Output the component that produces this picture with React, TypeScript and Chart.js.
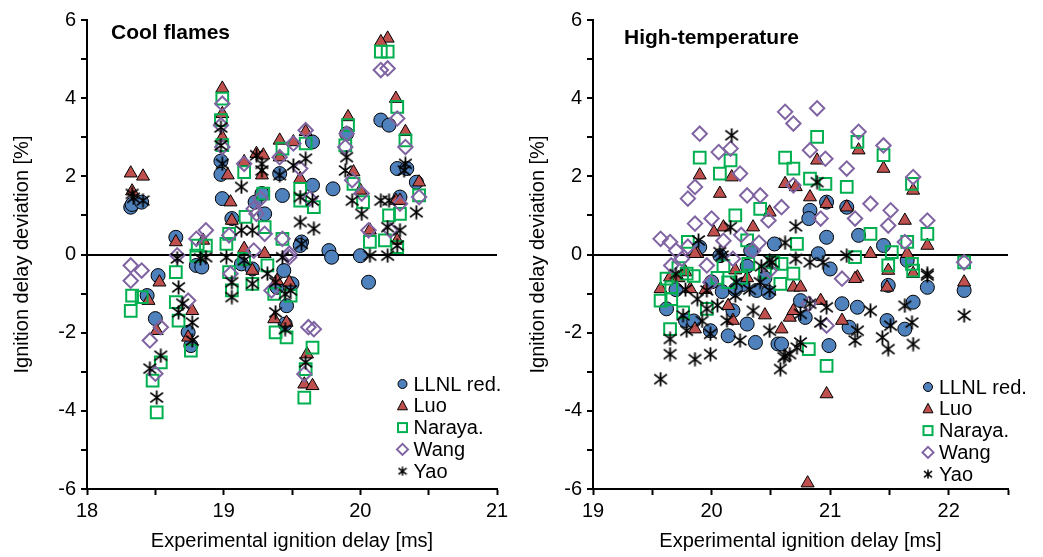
import React, { useEffect, useRef } from 'react';
import { Chart, registerables } from 'chart.js';

Chart.register(...registerables);

type Pt = [number, number];

const seriesNames = ['LLNL red.', 'Luo', 'Naraya.', 'Wang', 'Yao'];
const xAxisTitle = 'Experimental ignition delay [ms]';
const yAxisTitle = 'Ignition delay deviation [%]';

// ---- Cool flames panel: [experimental delay (ms), deviation (%)] ----
const coolLLNL: Pt[] = [
  [18.32, 1.21], [18.33, 1.28], [18.40, 1.34],
  [18.44, -1.05], [18.50, -1.64], [18.52, -0.54],
  [18.65, 0.44], [18.80, -0.28], [18.74, -1.99], [18.76, -2.33], [18.84, -0.32],
  [18.98, 2.39], [18.98, 2.05], [18.99, 1.43], [19.06, 0.92], [19.13, -0.24],
  [19.21, -0.37], [19.23, 1.34], [19.30, 1.04], [19.28, 1.56], [19.41, 2.07], [19.43, 1.51],
  [19.65, 2.88], [19.65, 1.77], [19.80, 1.68], [19.90, 3.09], [20.15, 3.44], [20.21, 3.31],
  [20.27, 2.20], [20.34, 2.20], [20.41, 1.85], [20.29, 1.47],
  [19.77, 0.10], [19.79, -0.07], [20.00, -0.03], [20.06, -0.71], [19.57, 0.32], [19.56, 0.23],
  [19.44, -0.41], [19.50, -0.75], [19.46, -1.31], [19.45, -1.78], [19.39, -0.84],
];
const coolLuo: Pt[] = [
  [18.32, 2.08], [18.33, 1.62], [18.41, 2.00],
  [18.45, -1.18], [18.51, -1.95], [18.53, -0.71],
  [18.65, 0.32], [18.85, 0.36], [18.77, -1.44], [18.74, -2.12],
  [18.99, 4.25], [18.99, 3.60], [18.99, 3.00], [19.03, 2.03], [19.05, 1.34], [19.06, 0.87],
  [20.20, 5.53], [20.15, 5.44], [20.26, 3.99], [19.91, 3.52], [20.33, 3.14], [19.41, 2.92],
  [19.51, 2.88], [19.60, 3.14], [19.24, 2.58], [19.29, 2.54], [19.15, 2.37], [19.28, 2.03], [19.41, 2.49],
  [19.95, 2.11], [19.56, 1.94], [20.00, 1.64], [20.26, 1.38], [20.29, 1.38], [20.43, 1.85],
  [20.07, 0.62], [20.27, 0.36], [19.15, 0.15],
  [19.21, -0.41], [19.30, 0.02], [19.39, -0.67], [19.48, -0.71], [19.37, -1.65], [19.46, -1.74],
  [19.61, -2.55], [19.59, -3.32], [19.65, -3.36],
];
const coolNaraya: Pt[] = [
  [18.33, -1.05], [18.32, -1.44], [18.40, -1.09],
  [18.48, -3.23], [18.51, -4.04], [18.54, -2.76],
  [18.65, -0.45], [18.65, -1.22], [18.67, -1.69], [18.76, -2.46], [18.81, 0.23], [18.80, -0.03],
  [19.02, 0.27], [19.06, -0.92], [18.99, 3.99], [18.98, 3.44], [18.99, 2.80],
  [19.15, 2.11], [19.29, 1.56], [19.43, 2.71], [19.56, 1.68], [19.60, 2.84], [19.56, 1.38], [19.66, 1.21],
  [19.91, 3.31], [19.89, 2.79], [19.95, 1.81], [20.02, 1.34], [20.27, 3.78], [20.33, 2.92],
  [20.43, 1.51], [20.21, 1.00], [20.29, 1.04], [20.07, 0.32], [20.18, 0.36], [20.27, 0.19],
  [19.43, 0.40], [19.30, 0.70], [19.16, 0.96], [19.04, 0.53], [18.87, 0.23],
  [20.15, 5.19], [20.20, 5.19],
  [19.04, -0.45], [19.15, -0.11], [19.21, -0.75], [19.32, -0.28], [19.37, -1.01], [19.49, -1.05],
  [19.38, -1.99], [19.46, -2.12], [19.65, -2.38], [19.60, -2.93], [19.59, -3.66],
];
const coolWang: Pt[] = [
  [18.32, -0.28], [18.40, -0.41], [18.32, -0.67],
  [18.54, -1.86], [18.46, -2.20], [18.50, -3.05],
  [18.87, 0.62], [18.80, 0.40], [18.74, -1.18], [18.66, -0.02],
  [18.99, 3.86], [18.98, 3.31], [18.99, 2.75], [19.04, 0.49], [19.05, -0.49],
  [20.15, 4.72], [20.20, 4.76], [19.15, 2.32], [19.41, 2.49], [19.51, 2.84], [19.60, 3.18],
  [19.56, 2.20], [19.90, 3.09], [19.89, 2.75], [19.94, 1.90], [20.01, 1.56], [20.27, 3.48],
  [20.33, 2.75], [20.43, 1.47], [20.06, 0.62], [20.22, 0.62], [20.29, 1.30], [19.22, 1.17],
  [19.27, 1.43], [19.24, 1.04], [19.30, 0.53], [19.43, 0.40], [19.48, 0.02], [19.63, 1.43],
  [19.22, 0.10], [19.48, -0.07], [19.35, -0.92], [19.62, -1.86], [19.66, -1.91], [19.59, -3.06],
];
const coolYao: Pt[] = [
  [18.33, 1.55], [18.34, 1.45], [18.41, 1.38],
  [18.46, -2.92], [18.51, -3.66], [18.54, -2.59],
  [18.66, -0.10], [18.67, -0.84], [18.67, -1.48], [18.70, -1.26], [18.77, -1.74], [18.77, -2.20], [18.83, -0.10],
  [18.98, 3.25], [18.98, 2.79], [18.99, 2.32], [19.13, 1.73], [19.24, 2.54], [19.28, 2.32], [19.28, 2.15],
  [19.41, 2.03], [19.51, 2.28], [19.60, 2.45], [19.56, 1.47], [19.65, 1.38], [19.56, 0.83], [19.66, 0.66],
  [19.57, 0.27], [19.90, 2.49], [19.89, 2.15], [19.94, 1.38], [20.01, 1.04], [20.15, 1.38], [20.21, 1.38],
  [20.20, 0.70], [20.29, 0.62], [20.33, 2.32], [20.32, 2.15], [20.41, 1.08], [20.27, 0.23], [20.20, -0.03],
  [20.07, -0.03], [19.13, 0.62], [19.21, 0.62], [19.02, -0.07], [18.87, -0.07], [19.43, -0.07],
  [19.06, -0.71], [19.06, -1.09], [19.15, -0.15], [19.21, -0.75], [19.32, -0.49], [19.38, -0.71],
  [19.45, -1.01], [19.49, -0.92], [19.38, -1.48], [19.45, -1.91], [19.60, -2.76],
];

// ---- High-temperature panel ----
const hotLLNL: Pt[] = [
  [19.62, -1.39], [19.78, -1.69], [19.99, -1.95], [20.14, -2.08], [20.30, -1.78], [20.37, -2.25],
  [20.56, -2.29], [20.38, -0.92], [20.48, -0.97], [20.18, -1.44], [19.90, 0.19], [20.33, 0.10],
  [20.07, -0.03], [20.53, 0.27], [20.09, -0.95], [20.26, -0.77],
  [19.70, -0.90], [19.85, -1.70], [20.00, -0.70], [20.20, -0.90], [20.45, -0.60], [20.30, -0.30],
  [20.97, 1.34], [21.14, 1.21], [20.83, 1.13], [20.82, 0.92], [20.97, 0.44], [21.24, 0.49],
  [21.45, 0.23], [20.90, 0.02], [21.00, -0.37], [21.65, -0.15],
  [20.75, -1.18], [20.79, -1.61], [21.10, -1.26], [21.23, -1.35], [21.16, -1.86], [20.99, -2.33],
  [21.48, -1.69], [21.63, -1.91], [21.70, -1.22], [21.82, -0.84], [22.13, -0.92], [21.49, -0.79], [20.59, -2.29],
];
const hotLuo: Pt[] = [
  [19.90, 2.03], [20.07, 1.56], [20.17, 1.98], [20.10, 0.70], [20.02, 0.57], [20.35, 0.70],
  [20.49, 1.08], [19.88, 0.02],
  [21.24, 2.67], [21.45, 2.20], [21.70, 1.64], [20.89, 2.41], [20.62, 1.81], [20.71, 1.73],
  [20.83, 1.47], [20.97, 1.30], [21.14, 1.21], [21.63, 0.87], [21.34, 0.02], [21.82, 0.23],
  [21.23, -0.58], [21.49, -0.41],
  [19.57, -0.88], [19.65, -0.58], [19.78, -0.45], [19.86, 0.02], [19.82, -0.88], [19.86, -1.91],
  [20.14, -1.31], [20.18, -1.69], [20.59, -1.91], [20.66, -1.61], [20.69, -0.84],
  [19.72, -0.60], [19.95, -0.90], [20.30, -0.60], [20.45, -1.55], [20.20, -0.40],
  [21.48, -0.84], [21.70, -0.49], [21.21, -0.62], [20.92, -1.18], [20.75, -0.84], [20.69, -1.44],
  [21.10, -1.69], [22.13, -0.71], [20.97, -3.57], [21.65, 0.02], [20.81, -5.85],
];
const hotNaraya: Pt[] = [
  [19.90, 2.48], [20.16, 2.41], [20.07, 2.07], [20.62, 2.48], [20.69, 2.20], [20.20, 1.00],
  [20.41, 1.17], [19.80, 0.32], [20.30, 0.36],
  [20.89, 3.01], [21.23, 2.88], [21.45, 2.54], [21.69, 1.81], [20.83, 1.94], [20.96, 1.81],
  [21.14, 1.73], [21.34, 0.53], [21.52, 0.06], [21.65, 0.32], [21.82, 0.53], [21.21, -0.07],
  [21.70, -0.41], [22.13, -0.20], [20.72, 0.27],
  [19.57, -1.18], [19.66, -0.84], [19.66, -1.14], [19.76, -1.48], [19.65, -1.91], [19.79, -0.49],
  [19.96, -1.39], [20.14, -0.71], [20.31, -0.24], [20.59, -0.24], [20.69, -0.49], [20.58, -0.75],
  [19.62, -0.62], [19.72, -0.35], [19.85, -0.55], [20.05, -0.60], [20.10, -0.30], [20.25, -0.60],
  [20.45, -0.45], [20.52, -0.20],
  [20.82, -2.42], [20.97, -2.85], [21.49, -0.28], [21.69, -0.24],
];
const hotWang: Pt[] = [
  [19.90, 3.09], [20.06, 2.62], [20.16, 2.71], [20.24, 2.07], [19.86, 1.73], [19.80, 1.43],
  [20.30, 1.51], [20.41, 1.51], [20.59, 1.21], [20.62, 3.65], [20.69, 3.35], [19.57, 0.40],
  [19.65, 0.32], [19.86, 0.79], [20.00, 0.92], [20.48, 0.87],
  [19.70, 0.10], [19.80, 0.20], [20.10, 0.35], [20.25, 0.50], [20.40, 0.30],
  [20.89, 3.74], [21.24, 3.14], [21.45, 2.79], [20.83, 2.67], [20.96, 2.45], [21.14, 2.20],
  [21.70, 1.98], [21.34, 1.30], [21.51, 1.13], [21.21, 0.92], [21.49, 0.74], [21.82, 0.87],
  [21.63, 0.32], [20.92, 0.92], [20.69, 1.77], [22.13, -0.20],
  [19.66, -0.28], [19.75, -0.11], [19.96, -0.28], [19.99, -0.71], [20.18, -0.11], [20.35, 0.10],
  [20.49, -0.41], [21.10, -0.62], [20.97, -1.82], [20.82, -1.26],
];
const hotYao: Pt[] = [
  [20.17, 3.05], [19.89, 0.36], [20.16, 0.70], [20.07, 0.06], [20.49, -0.15], [20.62, 0.30], [20.71, 0.72],
  [20.89, 1.85], [20.71, -0.11], [20.83, -0.20], [20.94, -0.20], [21.14, -0.03], [21.82, -0.49],
  [19.57, -3.19], [19.65, -2.55], [19.86, -2.68], [19.99, -2.55], [19.65, -2.16], [19.76, -1.56],
  [19.79, -1.95], [19.88, -1.14], [19.96, -0.92], [19.96, -1.39], [19.99, -2.03], [20.09, -0.03],
  [20.21, -0.71], [20.20, -1.05], [20.13, -1.69], [20.24, -2.20], [20.35, -1.44], [20.41, -0.71],
  [20.51, -0.20], [20.49, -0.92], [20.49, -1.95], [20.58, -2.93], [20.61, -2.63], [20.66, -2.55], [20.72, -2.38],
  [19.70, -0.50], [19.78, -0.90], [19.92, -1.70], [20.05, -1.30], [20.32, -0.90], [20.42, -0.30],
  [20.83, -1.26], [20.75, -1.52], [20.97, -1.35], [20.92, -1.74], [21.23, -1.95], [21.34, -1.44],
  [21.21, -2.20], [21.44, -2.12], [21.51, -1.82], [21.49, -2.42], [21.63, -1.31], [21.69, -1.74],
  [21.70, -2.29], [21.82, -0.54], [22.13, -1.56], [20.75, -2.25], [20.62, -2.59],
];

const FONT = '"Liberation Sans", Arial, Helvetica, sans-serif';
const BLUE = '#4F81BD';
const RED = '#C0504D';
const GREEN = '#00B050';
const PURPLE = '#8064A2';

interface PanelSpec {
  title: string;
  series: Pt[][];
  xMin: number;
  xMax: number;
  canvasWidth: number;
  yAxisWidth: number;
  rightPad: number;
  yTitlePad: number;
  titleX: number;
  titleY: number;
  legendX: number;
  legendY: number;
}

// Six-armed asterisk marker (vertical bar plus two diagonals)
function makeStar(size: number, lw: number): HTMLCanvasElement {
  const c = document.createElement('canvas');
  c.width = size;
  c.height = size;
  const g = c.getContext('2d')!;
  g.strokeStyle = '#000';
  g.lineWidth = lw;
  const m = size / 2;
  const r = size / 2 - 0.5;
  g.beginPath();
  g.moveTo(m, m - r);
  g.lineTo(m, m + r);
  g.moveTo(m - r * 0.9, m - r * 0.7);
  g.lineTo(m + r * 0.9, m + r * 0.7);
  g.moveTo(m + r * 0.9, m - r * 0.7);
  g.lineTo(m - r * 0.9, m + r * 0.7);
  g.stroke();
  return c;
}

function drawLegendMarker(ctx: CanvasRenderingContext2D, i: number, x: number, y: number, star: HTMLCanvasElement) {
  ctx.save();
  ctx.lineWidth = 1;
  ctx.strokeStyle = '#000';
  if (i === 0) {
    ctx.beginPath();
    ctx.arc(x, y, 4.5, 0, Math.PI * 2);
    ctx.fillStyle = BLUE;
    ctx.fill();
    ctx.stroke();
  } else if (i === 1) {
    ctx.beginPath();
    ctx.moveTo(x, y - 5.5);
    ctx.lineTo(x + 5, y + 4);
    ctx.lineTo(x - 5, y + 4);
    ctx.closePath();
    ctx.fillStyle = RED;
    ctx.fill();
    ctx.stroke();
  } else if (i === 2) {
    ctx.strokeStyle = GREEN;
    ctx.lineWidth = 2;
    ctx.strokeRect(x - 4.5, y - 4.5, 9, 9);
  } else if (i === 3) {
    ctx.strokeStyle = PURPLE;
    ctx.lineWidth = 2;
    ctx.beginPath();
    ctx.moveTo(x, y - 5.5);
    ctx.lineTo(x + 5.5, y);
    ctx.lineTo(x, y + 5.5);
    ctx.lineTo(x - 5.5, y);
    ctx.closePath();
    ctx.stroke();
  } else {
    ctx.drawImage(star, x - star.width / 2, y - star.height / 2);
  }
  ctx.restore();
}

function buildConfig(p: PanelSpec): any {
  const bigStar = makeStar(15, 1.8);
  const smallStar = makeStar(10, 1.5);
  const markerStyles = [
    { pointStyle: 'circle', pointRadius: 7, backgroundColor: BLUE, borderColor: '#000', borderWidth: 1 },
    { pointStyle: 'triangle', pointRadius: 7.5, backgroundColor: RED, borderColor: '#000', borderWidth: 1 },
    { pointStyle: 'rect', pointRadius: 8.3, backgroundColor: 'rgba(0,0,0,0)', borderColor: GREEN, borderWidth: 2 },
    { pointStyle: 'rectRot', pointRadius: 7.2, backgroundColor: 'rgba(0,0,0,0)', borderColor: PURPLE, borderWidth: 2 },
    { pointStyle: bigStar, pointRadius: 7.5, backgroundColor: '#000', borderColor: '#000', borderWidth: 1 },
  ];

  const overlay = {
    id: 'panelOverlay',
    afterDraw(chart: any) {
      const ctx: CanvasRenderingContext2D = chart.ctx;
      ctx.save();
      ctx.fillStyle = '#000';
      ctx.textAlign = 'left';
      ctx.textBaseline = 'middle';
      ctx.font = `bold 21px ${FONT}`;
      ctx.fillText(p.title, p.titleX, p.titleY);
      ctx.font = `20px ${FONT}`;
      seriesNames.forEach((name, i) => {
        const y = p.legendY + i * 21.8;
        drawLegendMarker(ctx, i, p.legendX, y, smallStar);
        ctx.fillStyle = '#000';
        ctx.fillText(name, p.legendX + 11, y + 1);
      });
      ctx.restore();
    },
  };

  const tickFont = { family: FONT, size: 20 };

  return {
    type: 'scatter',
    data: {
      datasets: p.series.map((pts, i) => ({
        label: seriesNames[i],
        data: pts.map(([x, y]) => ({ x, y })),
        showLine: false,
        order: 5 - i,
        ...markerStyles[i],
        pointHoverRadius: markerStyles[i].pointRadius,
      })),
    },
    options: {
      responsive: false,
      animation: false,
      events: [],
      layout: { padding: { top: 20, right: p.rightPad, bottom: 0, left: 0 } },
      plugins: {
        legend: { display: false },
        tooltip: { enabled: false },
      },
      scales: {
        x: {
          type: 'linear',
          min: p.xMin,
          max: p.xMax,
          afterFit: (s: any) => { s.height = 68; },
          ticks: {
            stepSize: 0.5,
            autoSkip: false,
            maxRotation: 0,
            padding: 4,
            color: '#000',
            font: tickFont,
            callback: (v: number) => (Number.isInteger(v) ? String(v) : ''),
          },
          grid: {
            drawOnChartArea: false,
            color: 'rgba(0,0,0,0)',
            tickColor: '#000',
            tickLength: 6,
            tickWidth: 2,
          },
          border: { color: '#000', width: 2 },
          title: {
            display: true,
            text: xAxisTitle,
            color: '#000',
            font: { family: FONT, size: 20 },
            padding: { top: 0, bottom: 4 },
          },
        },
        y: {
          type: 'linear',
          min: -6,
          max: 6,
          afterFit: (s: any) => { s.width = p.yAxisWidth; },
          ticks: {
            stepSize: 1,
            autoSkip: false,
            padding: 5,
            color: '#000',
            font: tickFont,
            callback: (v: number) => (v % 2 === 0 ? String(v) : ''),
          },
          grid: {
            color: (c: any) => (c.tick && c.tick.value === 0 ? '#000' : 'rgba(0,0,0,0)'),
            lineWidth: 2,
            tickColor: '#000',
            tickLength: 6,
            tickWidth: 2,
          },
          border: { color: '#000', width: 2 },
          title: {
            display: true,
            text: yAxisTitle,
            color: '#000',
            font: { family: FONT, size: 20 },
            padding: { top: p.yTitlePad, bottom: 0 },
          },
        },
      },
    },
    plugins: [overlay],
  };
}

const coolPanel: PanelSpec = {
  title: 'Cool flames',
  series: [coolLLNL, coolLuo, coolNaraya, coolWang, coolYao],
  xMin: 18,
  xMax: 21,
  canvasWidth: 521,
  yAxisWidth: 87,
  rightPad: 24,
  yTitlePad: 10,
  titleX: 111,
  titleY: 33,
  legendX: 402.5,
  legendY: 384,
};

const hotPanel: PanelSpec = {
  title: 'High-temperature',
  series: [hotLLNL, hotLuo, hotNaraya, hotWang, hotYao],
  xMin: 19,
  xMax: 22.5,
  canvasWidth: 522,
  yAxisWidth: 72,
  rightPad: 35,
  yTitlePad: 5,
  titleX: 103,
  titleY: 38,
  legendX: 407,
  legendY: 387,
};

export default function App() {
  const leftRef = useRef<HTMLCanvasElement>(null);
  const rightRef = useRef<HTMLCanvasElement>(null);

  useEffect(() => {
    const charts = [
      new Chart(leftRef.current!, buildConfig(coolPanel)),
      new Chart(rightRef.current!, buildConfig(hotPanel)),
    ];
    return () => charts.forEach((c) => c.destroy());
  }, []);

  return (
    <div style={{ position: 'absolute', left: 0, top: 0, width: 1043, height: 557, background: '#fff' }}>
      <canvas ref={leftRef} width={coolPanel.canvasWidth} height={557} style={{ position: 'absolute', left: 0, top: 0 }} />
      <canvas ref={rightRef} width={hotPanel.canvasWidth} height={557} style={{ position: 'absolute', left: 521, top: 0 }} />
    </div>
  );
}
